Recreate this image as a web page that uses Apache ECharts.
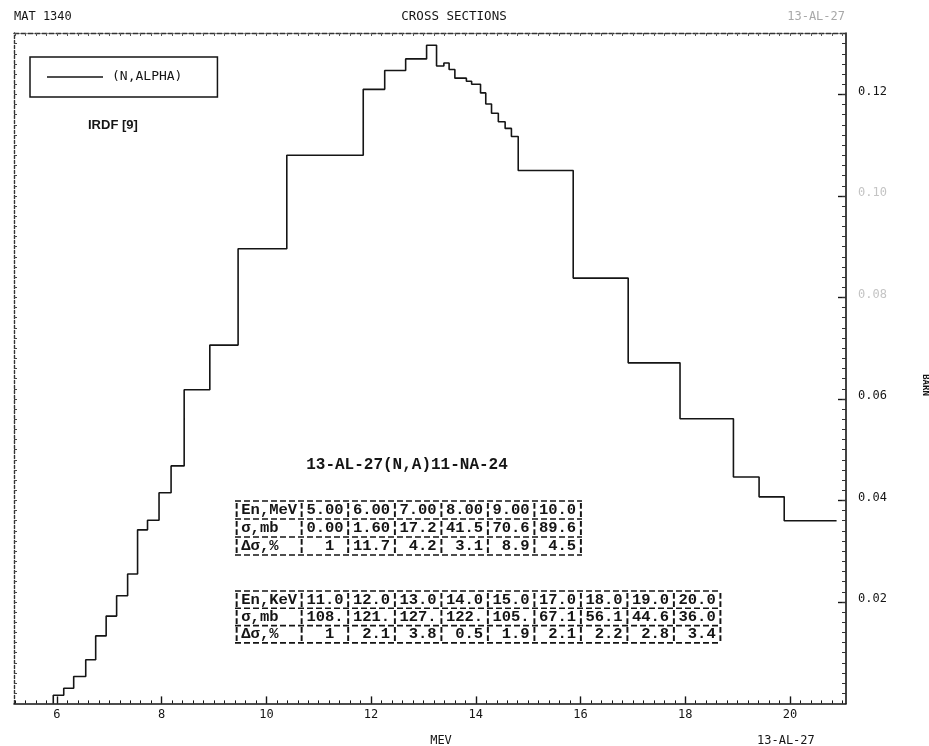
<!DOCTYPE html>
<html>
<head>
<meta charset="utf-8">
<script src="https://cdn.jsdelivr.net/npm/echarts@6/dist/echarts.min.js"></script>
<style>
  html, body { margin: 0; padding: 0; background: #ffffff; }
  #chart { width: 929px; height: 746px; }
</style>
</head>
<body>
<div id="chart"></div>
<script>
// Lower energy edge of each group (MeV); the last entry closes the final group
const groupEdges = [5.93, 6.13, 6.32, 6.55, 6.74, 6.94, 7.14, 7.35, 7.54, 7.73,
                    7.95, 8.18, 8.43, 8.92, 9.46, 10.39, 11.85, 12.26, 12.66, 13.06,
                    13.25, 13.39, 13.49, 13.60, 13.82, 13.92, 14.09, 14.19, 14.30, 14.43,
                    14.56, 14.68, 14.81, 15.86, 16.91, 17.90, 18.92, 19.41, 19.89, 20.89];
// Group cross section (barn), one value per group
const groupSigma = [0.0016, 0.0030, 0.0053, 0.0086, 0.0133, 0.0172, 0.0212, 0.0255, 0.0342, 0.0361,
                    0.0415, 0.0468, 0.0618, 0.0706, 0.0896, 0.1080, 0.1210, 0.1247, 0.1270, 0.1297,
                    0.1256, 0.1262, 0.1249, 0.1232, 0.1226, 0.1220, 0.1203, 0.1181, 0.1163, 0.1146,
                    0.1133, 0.1117, 0.1050, 0.0838, 0.0671, 0.0561, 0.0446, 0.0407, 0.0360];

const xTickValues = [6, 8, 10, 12, 14, 16, 18, 20];
const yTickValues = [0.02, 0.04, 0.06, 0.08, 0.10, 0.12];
const fadedYLabels = [0.08, 0.10];

// Tabulated reference values printed inside the frame
const table1Rows = [
  '¦En,MeV¦5.00¦6.00¦7.00¦8.00¦9.00¦10.0¦',
  '¦σ,mb  ¦0.00¦1.60¦17.2¦41.5¦70.6¦89.6¦',
  '¦Δσ,%  ¦  1 ¦11.7¦ 4.2¦ 3.1¦ 8.9¦ 4.5¦'
];
const table2Rows = [
  '¦En,KeV¦11.0¦12.0¦13.0¦14.0¦15.0¦17.0¦18.0¦19.0¦20.0¦',
  '¦σ,mb  ¦108.¦121.¦127.¦122.¦105.¦67.1¦56.1¦44.6¦36.0¦',
  '¦Δσ,%  ¦  1 ¦ 2.1¦ 3.8¦ 0.5¦ 1.9¦ 2.1¦ 2.2¦ 2.8¦ 3.4¦'
];

const X_MIN = 5.18, X_MAX = 21.07;
const Y_MIN = 0, Y_MAX = 0.1321;

// Minor tick positions along the frame
const xMinorTicks = [];
for (let k = 26; k <= 105; k++) xMinorTicks.push(+(k * 0.2).toFixed(1));
const yMinorTicks = [];
for (let k = 1; k <= 66; k++) yMinorTicks.push(+(k * 0.002).toFixed(3));

// Step curve: each group value held from its lower edge to the next edge
const stepData = [[groupEdges[0], 0]];
groupEdges.forEach((e, i) => {
  const v = i < groupSigma.length ? groupSigma[i] : groupSigma[groupSigma.length - 1];
  stepData.push([e, v]);
});

const INK = '#151515';
const MONO = 'DejaVu Sans Mono';
const TYPE = 'Liberation Mono';

function tableGraphic(rows, x, yTop, rowH, widthPx) {
  const children = [];
  rows.forEach((r, i) => {
    children.push({
      type: 'text', x: x, y: yTop + rowH * i + rowH / 2,
      style: { text: r, fontFamily: TYPE, fontWeight: 'bold', fontSize: 15.5,
               fill: INK, verticalAlign: 'middle', align: 'left' }
    });
  });
  for (let i = 0; i <= rows.length; i++) {
    children.push({
      type: 'line',
      shape: { x1: x + 3, y1: yTop + rowH * i, x2: x + widthPx - 3, y2: yTop + rowH * i },
      style: { stroke: INK, lineWidth: 1.6, lineDash: [6, 3] }
    });
  }
  return { type: 'group', children: children };
}

const chart = echarts.init(document.getElementById('chart'), null, { renderer: 'canvas' });

const option = {
  backgroundColor: '#ffffff',
  animation: false,
  grid: { left: 14, right: 83, top: 33, bottom: 42.6, containLabel: false },
  legend: {
    left: 30, top: 57,
    padding: [12, 35, 12, 17],
    borderColor: INK, borderWidth: 1.5,
    itemWidth: 56, itemHeight: 1.6,
    textStyle: { fontFamily: MONO, fontSize: 13, color: INK, padding: [0, 0, 0, 4], lineHeight: 16 },
    data: [{ name: '(N,ALPHA)', icon: 'path://M0,0H40V1H0Z' }]
  },
  xAxis: [
    {
      type: 'value', min: X_MIN, max: X_MAX, position: 'bottom',
      axisLine: { show: true, onZero: false, lineStyle: { color: INK, width: 1.6 } },
      axisTick: { show: true, inside: true, length: 7, customValues: xTickValues,
                  lineStyle: { color: INK, width: 1.4 } },
      axisLabel: { show: true, customValues: xTickValues, margin: 5, color: INK,
                   fontFamily: MONO, fontSize: 12 },
      splitLine: { show: false }
    },
    {
      type: 'value', min: X_MIN, max: X_MAX, position: 'bottom',
      axisLine: { show: false },
      axisTick: { show: true, inside: true, length: 3, customValues: xMinorTicks,
                  lineStyle: { color: INK, width: 1 } },
      axisLabel: { show: false }, splitLine: { show: false }
    },
    {
      type: 'value', min: X_MIN, max: X_MAX, position: 'top',
      axisLine: { show: true, onZero: false, lineStyle: { color: '#333', width: 1.3, type: [5, 2] } },
      axisTick: { show: true, inside: true, length: 3, customValues: xMinorTicks,
                  lineStyle: { color: '#555', width: 1 } },
      axisLabel: { show: false }, splitLine: { show: false }
    }
  ],
  yAxis: [
    {
      type: 'value', min: Y_MIN, max: Y_MAX, position: 'right',
      axisLine: { show: true, onZero: false, lineStyle: { color: INK, width: 1.6 } },
      axisTick: { show: true, inside: true, length: 8, customValues: yTickValues,
                  lineStyle: { color: INK, width: 1.4 } },
      axisLabel: {
        show: true, customValues: yTickValues, margin: 12, color: INK,
        fontFamily: MONO, fontSize: 12, padding: [0, 0, 6, 0],
        formatter: v => fadedYLabels.some(f => Math.abs(f - v) < 1e-9)
          ? '{f|' + v.toFixed(2) + '}' : v.toFixed(2),
        rich: { f: { color: '#c4c4c4', fontFamily: MONO, fontSize: 12 } }
      },
      splitLine: { show: false }
    },
    {
      type: 'value', min: Y_MIN, max: Y_MAX, position: 'right',
      axisLine: { show: false },
      axisTick: { show: true, inside: true, length: 4, customValues: yMinorTicks,
                  lineStyle: { color: '#333', width: 1 } },
      axisLabel: { show: false }, splitLine: { show: false }
    },
    {
      type: 'value', min: Y_MIN, max: Y_MAX, position: 'left',
      axisLine: { show: true, onZero: false, lineStyle: { color: '#333', width: 1.4, type: [3, 2] } },
      axisTick: { show: true, inside: true, length: 3, customValues: yMinorTicks,
                  lineStyle: { color: '#444', width: 1 } },
      axisLabel: { show: false }, splitLine: { show: false }
    }
  ],
  series: [
    {
      name: '(N,ALPHA)', type: 'line', step: 'end',
      xAxisIndex: 0, yAxisIndex: 0,
      data: stepData, symbol: 'none',
      lineStyle: { color: INK, width: 1.6 },
      itemStyle: { color: INK }
    }
  ],
  graphic: [
    { type: 'text', x: 14, y: 17, style: { text: 'MAT 1340', fontFamily: MONO, fontSize: 12, fill: INK, verticalAlign: 'middle' } },
    { type: 'text', x: 454, y: 17, style: { text: 'CROSS SECTIONS', fontFamily: MONO, fontSize: 12.5, fill: INK, align: 'center', verticalAlign: 'middle' } },
    { type: 'text', x: 845, y: 17, style: { text: '13-AL-27', fontFamily: MONO, fontSize: 12, fill: '#a8a8a8', align: 'right', verticalAlign: 'middle' } },
    { type: 'text', x: 88, y: 125, style: { text: 'IRDF [9]', fontFamily: 'Liberation Sans', fontWeight: 'bold', fontSize: 13, fill: INK, verticalAlign: 'middle' } },
    { type: 'text', x: 407, y: 465, style: { text: '13-AL-27(N,A)11-NA-24', fontFamily: TYPE, fontWeight: 'bold', fontSize: 16, fill: INK, align: 'center', verticalAlign: 'middle' } },
    tableGraphic(table1Rows, 232, 501, 18, 353),
    tableGraphic(table2Rows, 232, 591, 17.3, 492),
    { type: 'text', x: 441, y: 741, style: { text: 'MEV', fontFamily: MONO, fontSize: 12, fill: INK, align: 'center', verticalAlign: 'middle' } },
    { type: 'text', x: 757, y: 741, style: { text: '13-AL-27', fontFamily: MONO, fontSize: 12, fill: INK, verticalAlign: 'middle' } },
    { type: 'text', x: 925, y: 385, rotation: -Math.PI / 2, style: { text: 'BARN', fontFamily: MONO, fontWeight: 'bold', fontSize: 9, fill: INK, align: 'center', verticalAlign: 'middle' } }
  ]
};

chart.setOption(option);
</script>
</body>
</html>
